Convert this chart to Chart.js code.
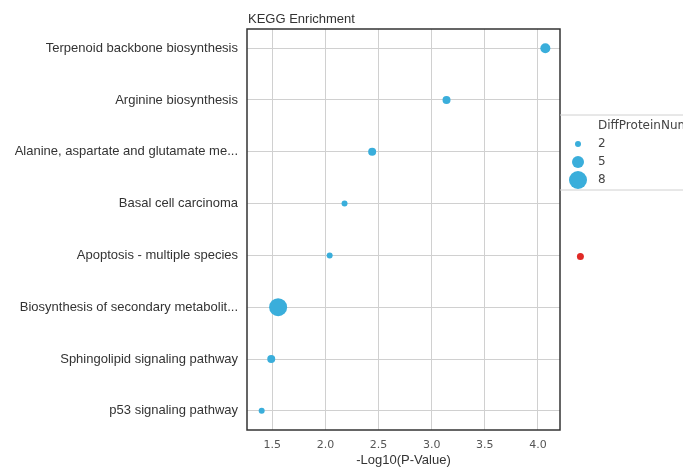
<!DOCTYPE html>
<html>
<head>
<meta charset="utf-8">
<script src="https://cdn.jsdelivr.net/npm/chart.js@4"></script>
<style>
  html, body { margin: 0; padding: 0; background: #fff; }
  #wrap { width: 683px; height: 468px; }
</style>
</head>
<body>
<div id="wrap"><canvas id="kegg"></canvas></div>
<script>
// KEGG pathways, top to bottom
const pathways = [
  "Terpenoid backbone biosynthesis",
  "Arginine biosynthesis",
  "Alanine, aspartate and glutamate me...",
  "Basal cell carcinoma",
  "Apoptosis - multiple species",
  "Biosynthesis of secondary metabolit...",
  "Sphingolipid signaling pathway",
  "p53 signaling pathway"
];
const logP = [4.07, 3.14, 2.44, 2.18, 2.04, 1.555, 1.49, 1.40];
const proteinNums = [4, 3, 3, 2, 2, 8, 3, 2];
const xTicks = [1.5, 2.0, 2.5, 3.0, 3.5, 4.0];
const legendNums = [2, 5, 8];
// stray red point at the right of the plot
const outlierX = [4.40];
const outlierRow = [4.02];

const blue = "#3aaedb";
const red = "#e02a26";
const labelFont = "Liberation Sans, Arial, sans-serif";
const numFont = "DejaVu Sans, sans-serif";

function radiusFor(n) {
  return n + 1;
}

const boxAndLegend = {
  id: "boxAndLegend",
  afterDatasetsDraw(chart) {
    const ctx = chart.ctx;
    const a = chart.chartArea;
    const xs = chart.scales.x, ys = chart.scales.y;
    ctx.save();
    // frame around the plot
    ctx.strokeStyle = "#333";
    ctx.lineWidth = 1.5;
    ctx.strokeRect(a.left, a.top, a.right - a.left, a.bottom - a.top);

    // title
    ctx.fillStyle = "#333";
    ctx.font = "13px " + labelFont;
    ctx.textAlign = "left";
    ctx.textBaseline = "middle";
    ctx.fillText("KEGG Enrichment", a.left + 1, 19);

    // red point lies outside the x range, so place it through the scales here
    ctx.fillStyle = red;
    outlierX.forEach((v, i) => {
      ctx.beginPath();
      ctx.arc(xs.getPixelForValue(v), ys.getPixelForValue(outlierRow[i]), 3.5, 0, Math.PI * 2);
      ctx.fill();
    });

    // size legend
    const top = 115, bottom = 190, lx = a.right;
    ctx.strokeStyle = "#d0d0d0";
    ctx.lineWidth = 1;
    ctx.beginPath();
    ctx.moveTo(lx, top); ctx.lineTo(chart.width, top);
    ctx.moveTo(lx, bottom); ctx.lineTo(chart.width, bottom);
    ctx.stroke();

    ctx.fillStyle = "#444";
    ctx.font = "12px " + numFont;
    ctx.fillText("DiffProteinNum", 598, 126);
    const rows = [144, 162, 180];
    legendNums.forEach((n, i) => {
      ctx.fillStyle = blue;
      ctx.beginPath();
      ctx.arc(578, rows[i], radiusFor(n), 0, Math.PI * 2);
      ctx.fill();
      ctx.fillStyle = "#444";
      ctx.fillText(String(n), 598, rows[i]);
    });
    ctx.restore();
  }
};

new Chart(document.getElementById("kegg"), {
  type: "scatter",
  data: {
    datasets: [{
      label: "DiffProteinNum",
      data: logP.map((x, i) => ({ x: x, y: i })),
      backgroundColor: blue,
      borderWidth: 0,
      pointRadius: ctx => radiusFor(proteinNums[ctx.dataIndex]),
      pointHoverRadius: ctx => radiusFor(proteinNums[ctx.dataIndex])
    }]
  },
  options: {
    responsive: true,
    maintainAspectRatio: false,
    animation: false,
    layout: { padding: { top: 29, right: 123, left: 0, bottom: 0 } },
    plugins: {
      legend: { display: false },
      title: { display: false },
      tooltip: { enabled: false }
    },
    scales: {
      x: {
        type: "linear",
        min: 1.262,
        max: 4.208,
        afterBuildTicks: scale => { scale.ticks = xTicks.map(v => ({ value: v })); },
        afterFit: scale => { scale.height = 38; },
        grid: { color: "#d0d0d0", lineWidth: 1, drawTicks: false },
        border: { display: false },
        ticks: {
          padding: 9,
          color: "#555",
          font: { family: numFont, size: 11 },
          callback: v => Number(v).toFixed(1)
        },
        title: {
          display: true,
          text: "-Log10(P-Value)",
          color: "#333",
          font: { family: labelFont, size: 13 },
          padding: { top: 0, bottom: 0 }
        }
      },
      y: {
        type: "linear",
        reverse: true,
        min: -0.37,
        max: 7.37,
        afterBuildTicks: scale => { scale.ticks = pathways.map((p, i) => ({ value: i })); },
        afterFit: scale => { scale.width = 247; },
        grid: { color: "#d0d0d0", lineWidth: 1, drawTicks: false },
        border: { display: false },
        ticks: {
          padding: 9,
          color: "#333",
          font: { family: labelFont, size: 13 },
          callback: v => pathways[v]
        }
      }
    }
  },
  plugins: [boxAndLegend]
});
</script>
</body>
</html>
